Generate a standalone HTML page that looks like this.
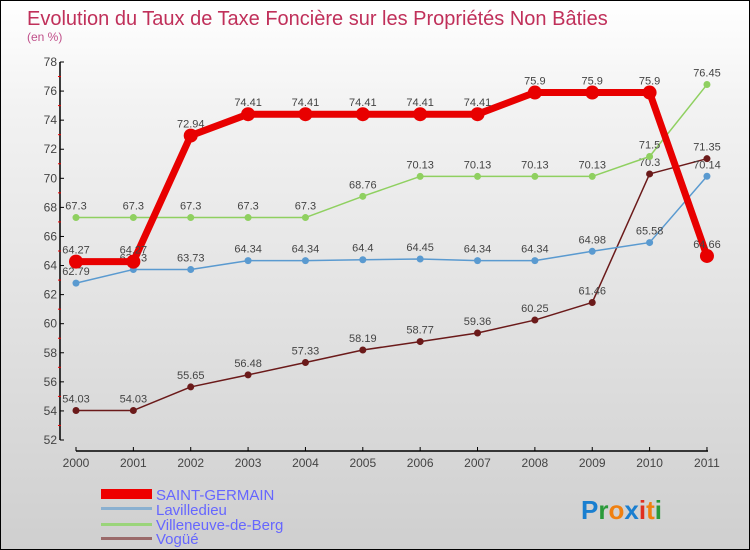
<!DOCTYPE html>
<html><head><meta charset="utf-8"><style>
body{margin:0}
#c{width:748px;height:548px;border:1px solid #000;background:linear-gradient(#fff,#f2f2f2 20%,#cfcfcf);position:relative;font-family:"Liberation Sans",sans-serif;overflow:hidden}
svg text{font-family:"Liberation Sans",sans-serif}
</style></head><body>
<div id="c">
<svg id="s" width="748" height="548">
<text x="26" y="24" font-size="20" fill="#c0305a">Evolution du Taux de Taxe Foncière sur les Propriétés Non Bâties</text>
<text x="26" y="40" font-size="12" fill="#c0508a">(en %)</text>
<g id="g"></g>
<g>
<rect x="100" y="488" width="51" height="10" fill="#e00"/>
<text x="155" y="499" font-size="15" fill="#66f">SAINT-GERMAIN</text>
<rect x="100" y="506" width="51" height="3" fill="#8ab0d0"/>
<text x="155" y="514" font-size="15" fill="#66f">Lavilledieu</text>
<rect x="100" y="522" width="51" height="3" fill="#9ad47a"/>
<text x="155" y="529" font-size="15" fill="#66f">Villeneuve-de-Berg</text>
<rect x="100" y="536" width="51" height="3" fill="#9a6a6a"/>
<text x="155" y="543" font-size="15" fill="#66f">Vogüé</text>
</g>
<text x="580" y="518" font-size="26" font-weight="bold"><tspan fill="#1a7fd0">P</tspan><tspan fill="#2a9a3a">r</tspan><tspan fill="#f08010">o</tspan><tspan fill="#1a7fd0">x</tspan><tspan fill="#e03020">i</tspan><tspan fill="#f08010">t</tspan><tspan fill="#2a9a3a">i</tspan></text>
</svg></div>
<script>
const years=["2000","2001","2002","2003","2004","2005","2006","2007","2008","2009","2010","2011"];
const yTicks=[52,54,56,58,60,62,64,66,68,70,72,74,76,78];
const saintGermain=[64.27,64.27,72.94,74.41,74.41,74.41,74.41,74.41,75.9,75.9,75.9,64.66];
const lavilledieu=[62.79,63.73,63.73,64.34,64.34,64.4,64.45,64.34,64.34,64.98,65.58,70.14];
const villeneuve=[67.3,67.3,67.3,67.3,67.3,68.76,70.13,70.13,70.13,70.13,71.5,76.45];
const vogue=[54.03,54.03,55.65,56.48,57.33,58.19,58.77,59.36,60.25,61.46,70.3,71.35];
const sgLabels=["64.27","64.27","72.94","74.41","74.41","74.41","74.41","74.41","75.9","75.9","75.9","64.66"];
const lavLabels=["62.79","63.73","63.73","64.34","64.34","64.4","64.45","64.34","64.34","64.98","65.58","70.14"];
const vilLabels=["67.3","67.3","67.3","67.3","67.3","68.76","70.13","70.13","70.13","70.13","71.5","76.45"];
const vogLabels=["54.03","54.03","55.65","56.48","57.33","58.19","58.77","59.36","60.25","61.46","70.3","71.35"];
const NS="http://www.w3.org/2000/svg",g=document.getElementById('g');
const X=i=>75+i*57.36, Y=v=>439-(v-52)*(378/26);
function el(t,a){const e=document.createElementNS(NS,t);for(const k in a)e.setAttribute(k,a[k]);g.appendChild(e);return e;}
// axes
let e=el('line',{x1:59,y1:Y(78),x2:59,y2:Y(52),stroke:'#000','stroke-width':1.5});


e=el('line',{x1:75,y1:450,x2:707,y2:450,stroke:'#000','stroke-width':1.5});


yTicks.forEach((v,i)=>{
 el('line',{x1:59,y1:Y(v),x2:63,y2:Y(v),stroke:'#000'});
 if(i<yTicks.length-1){el('line',{x1:57,y1:Y(v+1),x2:60,y2:Y(v+1),stroke:'#e00'});}
 const t=el('text',{x:56,y:Y(v)+4,'text-anchor':'end','font-size':12,fill:'#444'});t.textContent=v;
 
 
});
years.forEach((y,i)=>{
 el('line',{x1:X(i),y1:446,x2:X(i),y2:450,stroke:'#000'});
 const t=el('text',{x:X(i),y:466,'text-anchor':'middle','font-size':12,fill:'#444'});t.textContent=y;
 
 
});
function series(d,lab,col,w,r,name){
 const p=el('polyline',{points:d.map((v,i)=>X(i)+','+Y(v)).join(' '),fill:'none',stroke:col,'stroke-width':w,'stroke-linejoin':'round'});
 
 
 d.forEach((v,i)=>{
  const c=el('circle',{cx:X(i),cy:Y(v),r:r,fill:col});
  
  
  const t=el('text',{x:X(i),y:Y(v)-8,'text-anchor':'middle','font-size':11,fill:'#444'});t.textContent=lab[i];
  
  
 });
}
series(vogue,vogLabels,'#6b1a1a',1.5,3.5,'vogue');
series(villeneuve,vilLabels,'#8fd060',1.5,3.5,'villeneuve');
series(lavilledieu,lavLabels,'#5a9ad0',1.5,3.5,'lavilledieu');
series(saintGermain,sgLabels,'#e80000',7,7,'saint-germain');
</script></body></html>
